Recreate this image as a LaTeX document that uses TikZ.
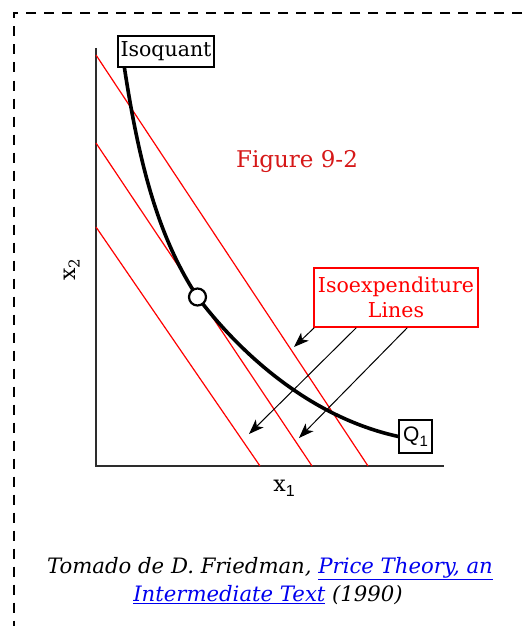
\documentclass[tikz,border=0pt]{standalone}
\usepackage{fontspec}
\usetikzlibrary{arrows.meta}
\newfontfamily\slab{DejaVu Serif}
\newfontfamily\sansf{Liberation Sans}
\newfontfamily\capf{DejaVu Serif}
\definecolor{linkblue}{RGB}{0,0,238}
\definecolor{figred}{RGB}{214,24,24}
\definecolor{axisgray}{RGB}{45,45,45}
\tikzset{
  frame/.style={line width=2pt, dash pattern=on 10pt off 8pt, black},
  axisline/.style={line width=2pt, axisgray},
  redline/.style={line width=1.2pt, red},
  isocurve/.style={line width=3.6pt, black, line join=round},
  ptcirc/.style={circle, draw=black, line width=2.2pt, fill=white, minimum size=17pt, inner sep=0pt},
  labbox/.style={draw=black, line width=1.2pt, fill=white, inner sep=0pt},
  redbox/.style={draw=red, line width=1.4pt, fill=white, inner sep=0pt, text=red, align=center},
  pointer/.style={line width=1pt, black, -{Stealth[length=15pt,width=11pt,inset=4pt]}},
  slabtext/.style={font=\slab\fontsize{20.5}{25}\selectfont},
  captext/.style={font=\capf\itshape\fontsize{21.2}{28}\selectfont, anchor=base}
}
\begin{document}
\begin{tikzpicture}[x=1pt,y=-1pt]
\useasboundingbox (0,0) rectangle (529,626);
\clip (0,0) rectangle (529,626);
% dashed frame
\draw[frame] (540,13) -- (13.5,13) -- (13.5,640);

% axes
\coordinate (ytop) at (96,48);
\coordinate (orig) at (96,466);
\coordinate (xend) at (444,466);
\draw[axisline] (ytop) -- (orig) -- (xend);

% isoexpenditure lines
\coordinate (l1a) at (96,55);  \coordinate (l1b) at (368,466);
\coordinate (l2a) at (96,143); \coordinate (l2b) at (312,466);
\coordinate (l3a) at (96,227); \coordinate (l3b) at (260,466);
\draw[redline] (l1a) -- (l1b);
\draw[redline] (l2a) -- (l2b);
\draw[redline] (l3a) -- (l3b);

% labels
\node[labbox, slabtext, minimum width=96pt, minimum height=31pt] (isoq) at (166,51.5) {Isoquant};
\node[labbox, minimum width=33pt, minimum height=33pt] (q1) at (415.5,436.5)
  {\sansf\fontsize{21}{21}\selectfont Q\raisebox{-5pt}{\fontsize{15}{15}\selectfont 1}};
\node[redbox, slabtext, minimum width=164pt, minimum height=59pt] (iexp) at (396,297.5)
  {Isoexpenditure\\Lines};
\node[text=figred, font=\slab\fontsize{23}{25}\selectfont] (fig) at (297,162) {Figure 9-2};
\node[font=\slab\fontsize{22}{24}\selectfont, rotate=90] (ylab) at (72,270)
  {x\raisebox{-4pt}{\fontsize{15}{15}\selectfont 2}};
\node[font=\slab\fontsize{22}{24}\selectfont] (xlab) at (284,488)
  {x\raisebox{-5pt}{\sansf\fontsize{16}{16}\selectfont 1}};

% isoquant curve
\coordinate (qs) at ([xshift=7pt]isoq.south west);
\coordinate (opt) at (197.5,297);
\draw[isocurve] (qs) .. controls (140,170) and (160,240) .. (opt)
  .. controls (230,340) and (300,415) .. (q1.west);
\node[ptcirc] (optc) at (opt) {};

% pointers
\coordinate (a1s) at ([xshift=1pt]iexp.south west);
\coordinate (a2s) at ([xshift=43pt]iexp.south west);
\coordinate (a3s) at ([xshift=94pt]iexp.south west);
\coordinate (a1e) at (294,347);
\coordinate (a2e) at (249,434);
\coordinate (a3e) at (299,438);
\draw[pointer] (a1s) -- (a1e);
\draw[pointer] (a2s) -- (a2e);
\draw[pointer] (a3s) -- (a3e);

% caption
\node[captext] (cap1) at (270,573)
  {Tomado de D. Friedman, \textcolor{linkblue}{\underline{Price Theory, an}}};
\node[captext] (cap2) at (268,601)
  {\textcolor{linkblue}{\underline{Intermediate Text}} (1990)};
\end{tikzpicture}
\end{document}
